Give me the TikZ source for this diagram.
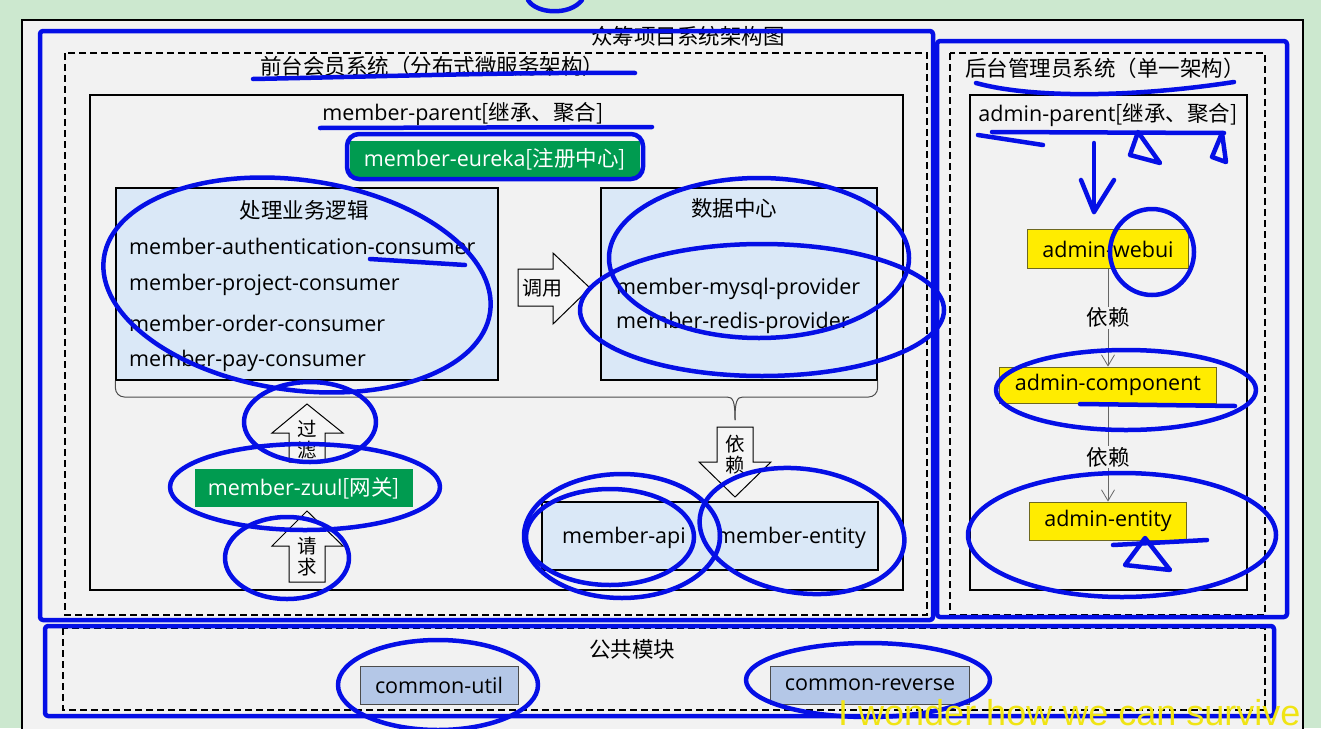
\documentclass[tikz,border=0pt]{standalone}
\usepackage{fontspec}
\setmainfont{Open Sans}
\newfontfamily\cjk{Noto Sans CJK SC}
\newfontfamily\subfont{Liberation Sans}
\usetikzlibrary{arrows.meta}

\definecolor{bggreen}{RGB}{204,232,207}
\definecolor{panel}{RGB}{242,242,242}
\definecolor{lightblue}{RGB}{218,232,247}
\definecolor{zuulgreen}{RGB}{0,155,80}
\definecolor{adminyellow}{RGB}{255,236,0}
\definecolor{commonblue}{RGB}{180,199,231}
\definecolor{penblue}{RGB}{5,15,230}
\definecolor{subyellow}{RGB}{240,228,20}

\tikzset{
  txt/.style={font=\fontsize{21.5}{25}\selectfont, inner sep=1pt},
  vtxt/.style={font=\cjk\fontsize{19.5}{21}\selectfont, inner sep=0pt, align=center},
  solidframe/.style={draw, line width=1.2pt},
  dashframe/.style={draw, line width=1.5pt, dash pattern=on 7pt off 4pt},
  greenbox/.style={txt, fill=zuulgreen, text=white},
  yellowbox/.style={txt, draw=olive!70!black, fill=adminyellow, line width=0.8pt},
  commonbox/.style={txt, draw=black!70, fill=commonblue, line width=0.8pt},
  blockarrow/.style={draw, fill=white!96!black, line width=1pt, line join=miter},
  dep/.style={draw=black!60, line width=0.8pt, -{Straight Barb[length=11pt,width=13pt]}},
  scribble/.style={draw=penblue, line width=4.5pt, line cap=round, line join=round},
}

\begin{document}
\begin{tikzpicture}[x=1pt,y=-1pt]
\clip (0,0) rectangle (1321,728);
\fill[bggreen] (0,0) rectangle (1321,728);
\draw[fill=panel, line width=1.2pt] (22,20) rectangle (1303,740);
\node[txt, font=\cjk\fontsize{21.5}{24}\selectfont] (title) at (688,36) {众筹项目系统架构图};

% front system
\draw[dashframe] (65,53) rectangle (927,615);
\node[txt] (fronttitle) at (432,66) {\cjk 前台会员系统（分布式微服务架构）};
\draw[solidframe] (90,95) rectangle (903,590);
\node[txt] (mparent) at (463,114) {member-parent{\cjk[继承、聚合]}};
\node[greenbox, minimum width=290, minimum height=37] (eureka) at (495,159) {member-eureka{\cjk[注册中心]}};

\node[solidframe, fill=lightblue, minimum width=382, minimum height=192] (logic) at (307,284) {};
\node[txt] (logictitle) at (304,210) {\cjk 处理业务逻辑};
\node[txt, anchor=west] (auth) at (128,246) {member-authentication-consumer};
\node[txt, anchor=west] (project) at (128,285) {member-project-consumer};
\node[txt, anchor=west] (order) at (128,323) {member-order-consumer};
\node[txt, anchor=west] (pay) at (128,361) {member-pay-consumer};

\node[solidframe, fill=lightblue, minimum width=276, minimum height=192] (data) at (739,284) {};
\node[txt] (datatitle) at (734,208) {\cjk 数据中心};
\node[txt, anchor=west] (mysql) at (615,289) {member-mysql-provider};
\node[txt, anchor=west] (redis) at (615,323) {member-redis-provider};

\draw[blockarrow] (518,269) -- (553,269) -- (553,253) -- (590,288) -- (553,324) -- (553,306) -- (518,306) -- cycle;
\node[txt, font=\cjk\fontsize{20}{24}\selectfont] (call) at (542,288) {调用};

% brace under both boxes
\draw[black!70, line width=1pt, rounded corners=9pt] (logic.south west) |- (727,397);
\draw[black!70, line width=1pt, rounded corners=9pt] (data.south east) |- (743,397);
\draw[black!70, line width=1pt] (727,397) .. controls (733,397) and (735,401) .. (735,420);
\draw[black!70, line width=1pt] (743,397) .. controls (737,397) and (735,401) .. (735,420);

\draw[blockarrow] (717,427) -- (753,427) -- (753,462) -- (771,462) -- (735,497) -- (699,462) -- (717,462) -- cycle;
\node[vtxt] (depend) at (735,455) {依\\赖};

\draw[blockarrow] (289,462) -- (289,433) -- (272,433) -- (307,404) -- (343,433) -- (325,433) -- (325,462) -- cycle;
\node[vtxt] (filter) at (307,440) {过\\滤};
\node[greenbox, minimum width=218, minimum height=38] (zuul) at (304,488) {member-zuul{\cjk[网关]}};
\draw[blockarrow] (289,582) -- (289,546) -- (272,546) -- (307,511) -- (343,546) -- (325,546) -- (325,582) -- cycle;
\node[vtxt] (request) at (307,557) {请\\求};

\node[solidframe, fill=lightblue, minimum width=336, minimum height=68] (apibox) at (710,536) {};
\node[txt] (api) at (624,538) {member-api};
\node[txt] (entity) at (791,538) {member-entity};

% back system
\draw[dashframe] (950,53) rectangle (1265,615);
\node[txt] (backtitle) at (1105,68) {\cjk 后台管理员系统（单一架构）};
\draw[solidframe] (970,95) rectangle (1247,590);
\node[txt] (aparent) at (1108,115) {admin-parent{\cjk[继承、聚合]}};
\node[yellowbox, minimum width=161, minimum height=39] (webui) at (1108,249) {admin-webui};
\node[yellowbox, minimum width=217, minimum height=36] (component) at (1108,385) {admin-component};
\node[yellowbox, minimum width=157, minimum height=38] (aentity) at (1108,521) {admin-entity};
\draw[dep] (webui) -- node[txt, fill=panel] {\cjk 依赖} (component);
\draw[dep] (component) -- node[txt, fill=panel, pos=0.55] {\cjk 依赖} (aentity);

% common modules
\draw[dashframe] (63,628) rectangle (1265,710);
\node[txt] (commontitle) at (632,649) {\cjk 公共模块};
\node[commonbox, minimum width=158, minimum height=38] (util) at (439,685) {common-util};
\node[commonbox, minimum width=199, minimum height=38] (reverse) at (870,685) {common-reverse};

% pen marks
\draw[scribble, rounded corners=3pt] (40,31) rectangle (933,620);
\draw[scribble, rounded corners=3pt] (937,41) rectangle (1287,617);
\draw[scribble, rounded corners=3pt] (45,626) rectangle (1274,716);
\draw[scribble] (528,0) .. controls (536,14) and (570,16) .. (582,0);
\draw[scribble] (253,79) .. controls (400,76) and (520,72) .. (635,73);
\draw[scribble] (320,128) -- (652,127);
\draw[scribble, rounded corners=12pt] (347,134) rectangle (643,179);
\draw[scribble, rotate around={-8:(297,285)}] (297,285) ellipse [x radius=195, y radius=105];
\draw[scribble] (370,259) -- (465,265);
\draw[scribble] (759,258) ellipse [x radius=150, y radius=80];
\draw[scribble] (762,310) ellipse [x radius=182, y radius=66];
\draw[scribble] (310,422) ellipse [x radius=66, y radius=40];
\draw[scribble] (305,487) ellipse [x radius=135, y radius=43];
\draw[scribble] (287,558) ellipse [x radius=62, y radius=41];
\draw[scribble] (622,536) ellipse [x radius=98, y radius=62];
\draw[scribble] (610,537) ellipse [x radius=84, y radius=48];
\draw[scribble, rotate around={-8:(802,531)}] (802,531) ellipse [x radius=103, y radius=62];
\draw[scribble] (976,83) .. controls (1030,98) and (1130,98) .. (1234,82);
\draw[scribble] (992,132) -- (1224,133);
\draw[scribble] (978,135) -- (1043,145);
\draw[scribble] (1138,132) -- (1130,155) -- (1160,163) -- cycle;
\draw[scribble] (1222,133) -- (1212,157) -- (1226,162) -- cycle;
\draw[scribble] (1094,143) -- (1094,212);
\draw[scribble] (1081,180) -- (1094,212) -- (1114,180);
\draw[scribble] (1152,252) ellipse [x radius=42, y radius=43];
\draw[scribble] (1126,390) ellipse [x radius=130, y radius=40];
\draw[scribble] (1080,404) -- (1235,406);
\draw[scribble] (1122,535) ellipse [x radius=154, y radius=62];
\draw[scribble] (1113,545) -- (1207,540);
\draw[scribble] (1145,538) -- (1125,565) -- (1170,570) -- cycle;
\draw[scribble] (438,685) ellipse [x radius=100, y radius=45];
\draw[scribble] (868,680) ellipse [x radius=122, y radius=37];

\node[anchor=base west, text=subyellow, font=\subfont\fontsize{36}{38}\selectfont, inner sep=0pt, text depth=0pt] (subtitle) at (838,725) {I wonder how we can survive};
\end{tikzpicture}
\end{document}
